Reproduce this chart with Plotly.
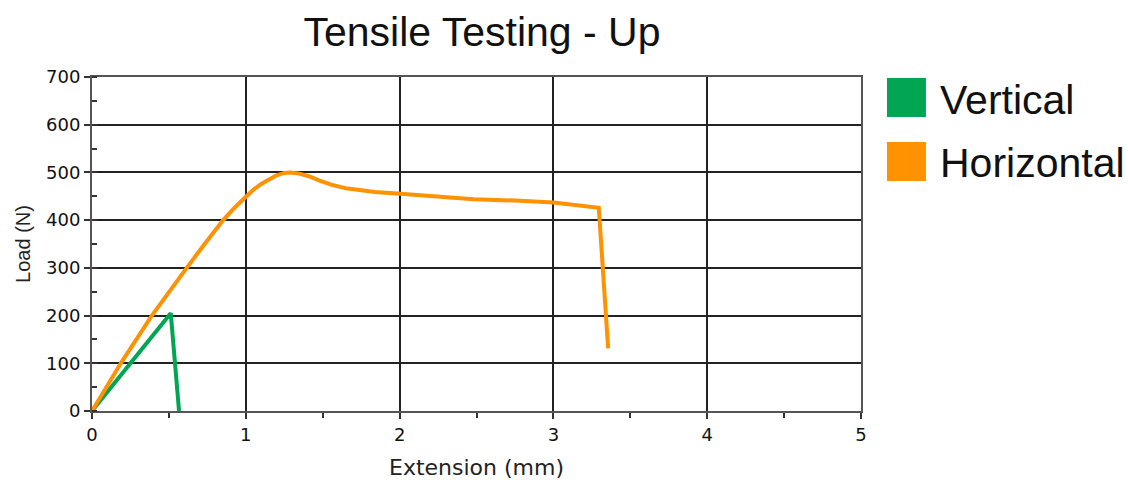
import plotly.graph_objects as go

# ---- data ----
vertical_x = [0.0, 0.512, 0.566]
vertical_y = [0.0, 205.0, 0.0]

horizontal_x = [0.0, 0.187, 0.389, 0.50, 0.616, 0.73, 0.853, 0.93, 1.00, 1.05, 1.10, 1.15,
                1.20, 1.25, 1.29, 1.34, 1.41, 1.48, 1.56, 1.65, 1.84, 1.984, 2.20, 2.48,
                2.75, 3.00, 3.295, 3.356]
horizontal_y = [0, 100, 200, 250, 300, 349, 400, 427, 450, 464, 476, 486,
                494, 499, 500, 498, 492, 483, 474, 467, 459, 456, 450, 444,
                441, 437, 426, 131]

series_names = ["Vertical", "Horizontal"]
series_colors = ["#00A651", "#FF9200"]

x_ticks = [0, 1, 2, 3, 4, 5]
y_ticks = [0, 100, 200, 300, 400, 500, 600, 700]

title_text = "Tensile Testing - Up"
x_title = "Extension (mm)"
y_title = "Load (N)"

# ---- figure ----
fig = go.Figure()
fig.add_trace(go.Scatter(x=vertical_x, y=vertical_y, mode="lines",
                         line=dict(color=series_colors[0], width=4),
                         name=series_names[0], showlegend=False))
fig.add_trace(go.Scatter(x=horizontal_x, y=horizontal_y, mode="lines",
                         line=dict(color=series_colors[1], width=4),
                         name=series_names[1], showlegend=False))

W, H = 1128, 480
L, R, T, B = 91.5, 267, 77, 69
pw, ph = W - L - R, H - T - B

def px_to_paper_x(px):
    return (px - L) / pw

def px_to_paper_y(py):
    return (H - B - py) / ph

# manual legend (large squares)
legend_rows = [(78, 117, 100), (142, 181, 163)]
for (top, bot, mid), name, col in zip(legend_rows, series_names, series_colors):
    fig.add_shape(type="rect", xref="paper", yref="paper",
                  x0=px_to_paper_x(887), x1=px_to_paper_x(926),
                  y0=px_to_paper_y(bot), y1=px_to_paper_y(top),
                  fillcolor=col, line=dict(width=0))
    fig.add_annotation(xref="paper", yref="paper", x=px_to_paper_x(938), y=px_to_paper_y(mid),
                       text=name, showarrow=False, xanchor="left", yanchor="middle",
                       font=dict(family="Liberation Sans, Arial", size=41, color="#111"))

grid_col = "#222"
tick_font = dict(family="DejaVu Sans, Verdana", size=18, color="#111")
fig.update_layout(
    width=W, height=H,
    margin=dict(l=L, r=R, t=T, b=B),
    paper_bgcolor="white", plot_bgcolor="white",
    title=dict(text=title_text, x=482 / W, xanchor="center",
               y=1 - 32 / H, yanchor="middle",
               font=dict(family="Liberation Sans, Arial", size=41, color="#111")),
    xaxis=dict(range=[0, 5], tickvals=x_ticks, ticktext=[str(v) for v in x_ticks],
               automargin=False,
               showgrid=True, gridcolor=grid_col, gridwidth=1.5,
               showline=True, linecolor="#555", linewidth=2, mirror=True,
               ticks="outside", ticklen=6, tickcolor="#333", tickwidth=1.5,
               minor=dict(dtick=0.5, ticks="outside", ticklen=5, tickcolor="#333", tickwidth=1.5, showgrid=False),
               zeroline=False,
               tickfont=tick_font,
               title=dict(text=x_title, standoff=16,
                          font=dict(family="DejaVu Sans, Verdana", size=22, color="#222"))),
    yaxis=dict(range=[0, 700], tickvals=y_ticks, ticktext=[str(v) for v in y_ticks],
               automargin=False,
               showgrid=True, gridcolor=grid_col, gridwidth=1.5,
               showline=True, linecolor="#555", linewidth=2, mirror=True,
               ticks="outside", ticklen=6, tickcolor="#333", tickwidth=1.5,
               minor=dict(dtick=50, ticks="inside", ticklen=5, tickcolor="#333", tickwidth=1.5, showgrid=False),
               zeroline=False,
               tickfont=tick_font,
               title=dict(text=y_title, standoff=10,
                          font=dict(family="Liberation Sans, Arial", size=20, color="#222"))),
)

fig.write_html("out.html", config={"displayModeBar": False},
               post_script="document.body.style.margin='0px';")
